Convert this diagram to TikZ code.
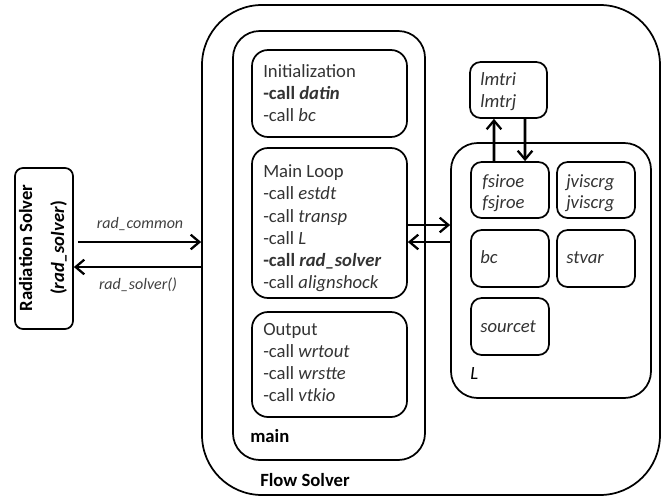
\documentclass[tikz,border=0pt]{standalone}
\usepackage{fontspec}
\setmainfont{Carlito}
\usetikzlibrary{arrows.meta,fit}
\begin{document}
\begin{tikzpicture}[x=0.75pt,y=-0.75pt,
  box/.style={draw=black,line width=1.3pt,inner sep=0pt},
  txt/.style={anchor=base west,inner sep=0pt,text=black!80,font=\fontsize{14}{17}\selectfont},
  itx/.style={txt,font=\fontsize{14}{17}\selectfont\itshape},
  lbl/.style={inner sep=0pt,text=black!75,font=\fontsize{12}{14}\selectfont\itshape},
  arr/.style={line width=2pt,-{Straight Barb[length=6.5pt,width=11pt,line width=1.7pt]}}]
\useasboundingbox (0,0) rectangle (662,497);
% containers
\node[box,fit={(202,5) (660,495)},rounded corners=45pt] (flow) {};
\node[box,fit={(233,31) (425,460)},rounded corners=20pt] (main) {};
\node[box,fit={(252,50) (407,137)},rounded corners=12pt] (init) {};
\node[box,fit={(252,148) (407,298)},rounded corners=12pt] (loop) {};
\node[box,fit={(252,312) (407,417)},rounded corners=12pt] (output) {};
\node[box,fit={(451,143) (651,398)},rounded corners=20pt] (Lbox) {};
\node[box,fit={(470,62) (547,118)},rounded corners=8pt] (lmt) {};
\node[box,fit={(471,162) (549,218)},rounded corners=8pt] (fsi) {};
\node[box,fit={(557,162) (635,218)},rounded corners=8pt] (jvi) {};
\node[box,fit={(471,230) (549,287)},rounded corners=8pt] (bcb) {};
\node[box,fit={(557,230) (635,287)},rounded corners=8pt] (stv) {};
\node[box,fit={(471,298) (549,355)},rounded corners=8pt] (src) {};
\node[box,fit={(15,168) (73,329)},rounded corners=6pt] (rad) {};
% texts
\node[txt] (t1) at (263,77) {Initialization};
\node[txt] (t2) at (263,99) {\textbf{-call \textit{datin}}};
\node[txt] (t3) at (263,121) {-call \textit{bc}};
\node[txt] (t4) at (263,177) {Main Loop};
\node[txt] (t5) at (263,199) {-call \textit{estdt}};
\node[txt] (t6) at (263,222) {-call \textit{transp}};
\node[txt] (t7) at (263,244) {-call \textit{L}};
\node[txt] (t8) at (263,266) {\textbf{-call \textit{rad\_solver}}};
\node[txt] (t9) at (263,288) {-call \textit{alignshock}};
\node[txt] (t10) at (263,335) {Output};
\node[txt] (t11) at (263,357) {-call \textit{wrtout}};
\node[txt] (t12) at (263,379) {-call \textit{wrstte}};
\node[txt] (t13) at (263,401) {-call \textit{vtkio}};
\node[txt,text=black] (t14) at (250,442) {\textbf{main}};
\node[txt,text=black] (t15) at (260,486) {\textbf{Flow Solver}};
\node[txt,text=black] (t16) at (470,379) {\textit{L}};
\node[itx] (t17a) at (480,85) {lmtri};
\node[itx] (t17b) at (480,107) {lmtrj};
\node[itx] (t18a) at (482,187) {fsiroe};
\node[itx] (t18b) at (482,208) {fsjroe};
\node[itx] (t19a) at (566,187) {jviscrg};
\node[itx] (t19b) at (566,208) {jviscrg};
\node[itx] (t20) at (480,263) {bc};
\node[itx] (t21) at (566,263) {stvar};
\node[itx] (t22) at (480,332) {sourcet};
\node[rotate=90,align=center,inner sep=0pt,text=black,font=\fontsize{14}{24}\selectfont\bfseries] (t23) at (43,248) {Radiation Solver\\(\textit{rad\_solver})};
\node[lbl,anchor=base] (t24) at (140,228) {rad\_common};
\node[lbl,anchor=base] (t25) at (138,289) {rad\_solver()};
% connectors
\coordinate (y225) at (0,225);
\coordinate (y242) at (0,242);
\coordinate (y267) at (0,267);
\draw[arr] (loop.east |- y225) -- (Lbox.west |- y225);
\draw[arr] (Lbox.west |- y242) -- (loop.east |- y242);
\draw[arr] ([xshift=-12pt]fsi.north) -- ([xshift=-10.9pt]lmt.south);
\draw[arr] ([xshift=12.4pt]lmt.south) -- ([xshift=11.3pt]fsi.north);
\draw[arr] ([xshift=3pt]rad.east |- y242) -- (flow.west |- y242);
\draw[arr] (flow.west |- y267) -- (rad.east |- y267);
\end{tikzpicture}
\end{document}
